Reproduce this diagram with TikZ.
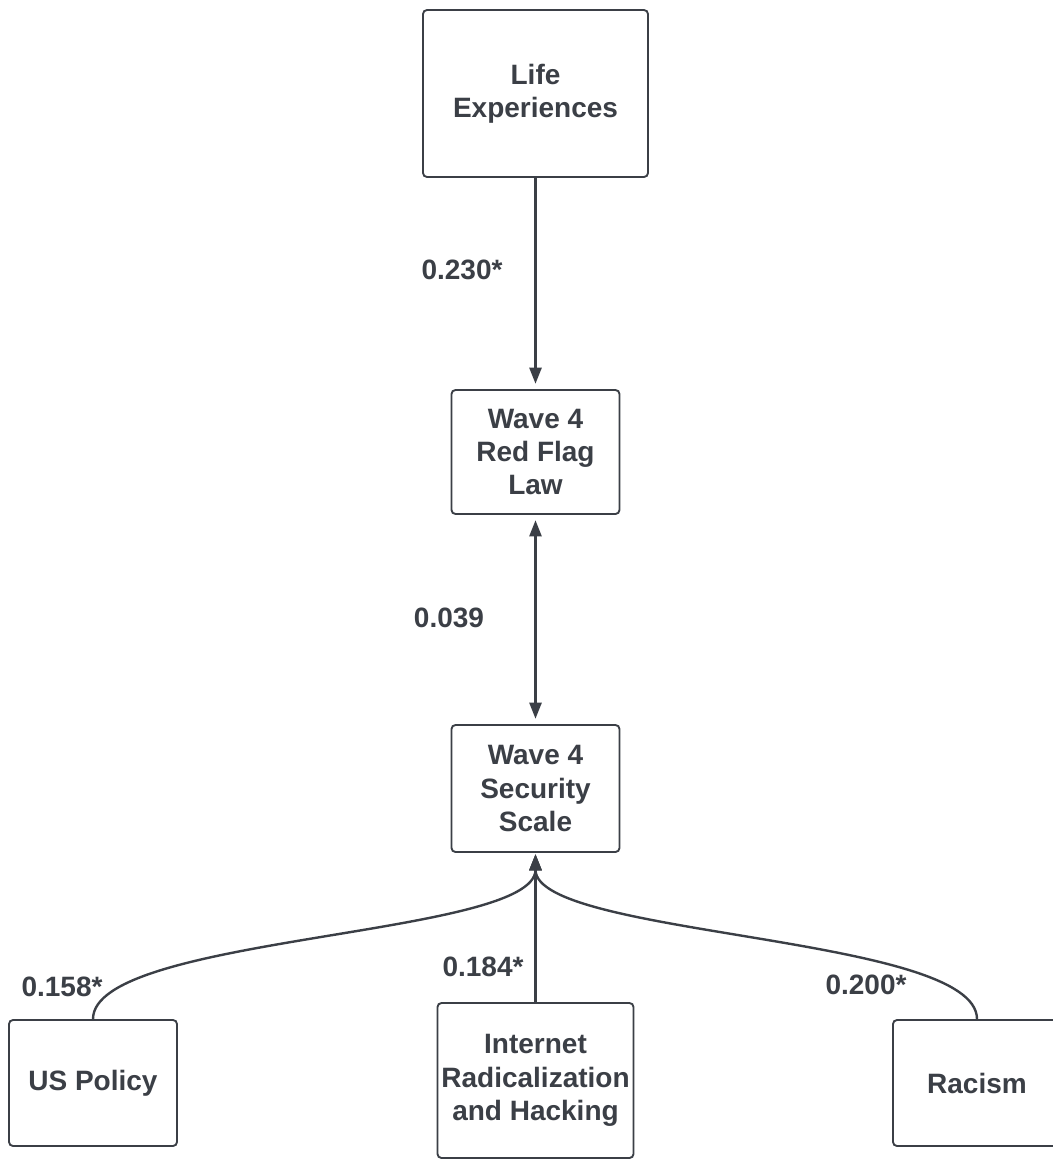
\documentclass[tikz,border=0pt]{standalone}
\usepackage{fontspec}
\setmainfont{Liberation Sans}
\usetikzlibrary{arrows.meta}
\definecolor{ink}{HTML}{3B3F46}
\begin{document}
\begin{tikzpicture}[x=0.75pt,y=-0.75pt,
  box/.style={draw=ink, line width=1.4pt, rounded corners=3pt, fill=white,
    inner sep=0pt, align=center, text=ink,
    font=\fontsize{21}{25}\selectfont\bfseries},
  lbl/.style={text=ink, inner sep=0pt, font=\fontsize{21}{25}\selectfont\bfseries},
  tip/.tip={Triangle[length=12pt,width=9pt]},
  link/.style={draw=ink, line width=1.8pt, -tip},
  dlink/.style={draw=ink, line width=1.8pt, tip-tip}
]
\clip (0,0) rectangle (1053,1161);
\fill[white] (0,0) rectangle (1053,1161);

% variables
\node[box, minimum width=168.75pt, minimum height=125.25pt] (life) at (535.5,93.5) {Life\\Experiences};
\node[box, minimum width=126pt, minimum height=93pt] (flag) at (535.5,452) {Wave 4\\Red Flag\\Law};
\node[box, minimum width=126pt, minimum height=95.25pt] (sec) at (535.5,788.5) {Wave 4\\Security\\Scale};
\node[box, minimum width=126pt, minimum height=94.5pt] (us) at (93,1083) {US Policy};
\node[box, minimum width=147pt, minimum height=116.25pt] (net) at (535.5,1080.5) {Internet\\Radicalization\\and Hacking};
\node[box, minimum width=126pt, minimum height=94.5pt] (rac) at (977,1083) {Racism};

% paths
\draw[link, shorten >=4pt] (life.south) -- (flag.north);
\draw[dlink, shorten >=4pt, shorten <=4pt] (flag.south) -- (sec.north);
\draw[link, shorten >=1pt] (us.north) .. controls +(0,-84) and +(0,84) .. (sec.south);
\draw[link, shorten >=1pt] (net.north) -- (sec.south);
\draw[link, shorten >=1pt] (rac.north) .. controls +(0,-84) and +(0,84) .. (sec.south);

% coefficients
\node[lbl] (c1) at (462,270) {0.230*};
\node[lbl] (c2) at (449,618) {0.039};
\node[lbl] (c3) at (62,987) {0.158*};
\node[lbl] (c4) at (483,967) {0.184*};
\node[lbl] (c5) at (866,985) {0.200*};
\end{tikzpicture}
\end{document}
